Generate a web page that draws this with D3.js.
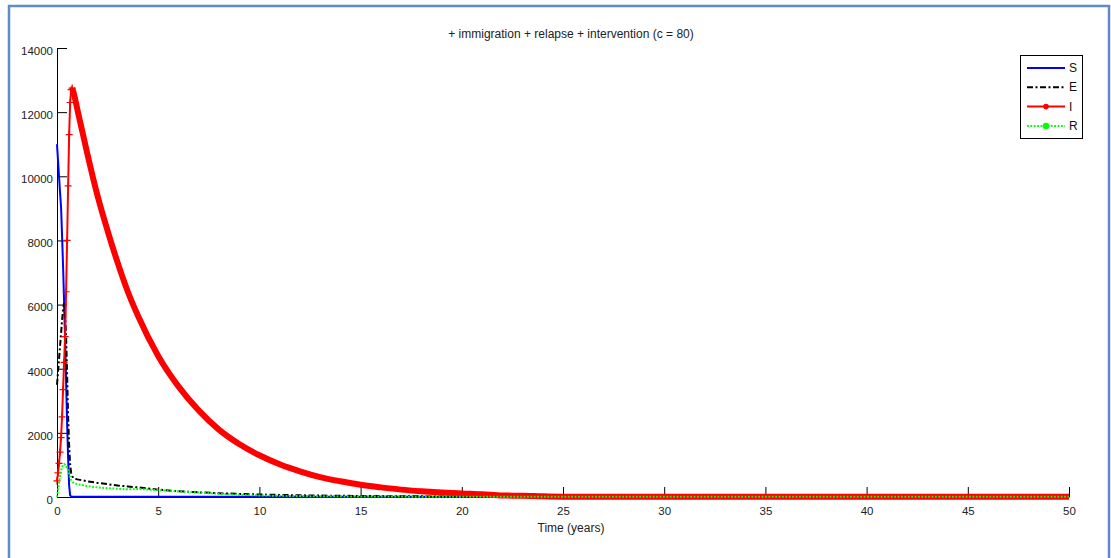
<!DOCTYPE html>
<html>
<head>
<meta charset="utf-8">
<script src="https://cdn.jsdelivr.net/npm/d3@7"></script>
<style>
  body { margin: 0; background: #fff; }
  svg { display: block; font-family: "Liberation Sans", Arial, sans-serif; }
</style>
</head>
<body>
<div id="chart"></div>
<script>
// Time points (years) shared by all series
const time = [0, 0.05, 0.1, 0.15, 0.2, 0.25, 0.3, 0.35, 0.4, 0.45, 0.5, 0.55, 0.6, 0.65, 0.7, 0.75, 0.8, 0.9, 1.0, 1.25, 1.5, 2, 2.5, 3, 3.5, 4, 5, 6, 7, 8, 9, 10, 11, 12, 13, 14, 15, 16, 17, 18, 19, 20, 21, 22, 23, 24, 25, 30, 35, 40, 45, 50];

const seriesS = [11000, 10500, 10000, 9500, 9050, 8150, 7200, 6100, 4900, 3600, 2300, 1200, 350, 50, 20, 10, 10, 10, 10, 10, 10, 10, 10, 10, 10, 10, 10, 10, 10, 10, 10, 10, 10, 10, 10, 10, 10, 10, 10, 10, 10, 10, 10, 10, 10, 10, 10, 10, 10, 10, 10, 10];
const seriesE = [3500, 3900, 4300, 4700, 5100, 5500, 5850, 6050, 5700, 5000, 3800, 2500, 1600, 1000, 750, 650, 600, 570, 550, 520, 490, 440, 400, 360, 330, 300, 230, 180, 145, 118, 96, 78, 65, 53, 45, 38, 32, 27, 23, 20, 17, 14, 12, 10, 9, 8, 7, 5, 4, 4, 4, 4];
const seriesI = [500, 750, 1050, 1400, 1850, 2500, 3350, 4200, 5000, 6400, 8000, 9700, 11300, 12300, 12700, 12750, 12650, 12400, 12100, 11400, 10700, 9400, 8300, 7300, 6400, 5650, 4400, 3450, 2700, 2100, 1650, 1300, 1020, 800, 620, 490, 380, 300, 230, 180, 140, 110, 85, 45, 40, 20, 10, 5, 5, 5, 5, 5];
const seriesR = [0, 200, 450, 650, 820, 940, 1000, 1030, 1010, 960, 900, 830, 720, 600, 520, 480, 450, 420, 400, 370, 340, 300, 275, 255, 240, 250, 215, 175, 140, 100, 70, 50, 38, 30, 24, 20, 16, 14, 12, 10, 9, 8, 7, 6, 6, 5, 5, 5, 5, 5, 5, 5];

const xTicks = [0, 5, 10, 15, 20, 25, 30, 35, 40, 45, 50];
const yTicks = [0, 2000, 4000, 6000, 8000, 10000, 12000, 14000];
const legendLabels = ["S", "E", "I", "R"];

const W = 1111, H = 558;
const svg = d3.select("#chart").append("svg")
    .attr("width", W)
    .attr("height", H);

svg.append("rect").attr("width", W).attr("height", H).attr("fill", "#fff");

// outer frame of the screenshot
svg.append("rect")
    .attr("x", 9).attr("y", 6)
    .attr("width", 1100).attr("height", 600)
    .attr("fill", "none")
    .attr("stroke", "#5f8bc8")
    .attr("stroke-width", 2.5);

const x = d3.scaleLinear().domain([0, 50]).range([57, 1069]);
const y = d3.scaleLinear().domain([0, 14000]).range([497, 48]);

// Axes, ticks pointing inward
const xAxis = svg.append("g")
    .attr("transform", `translate(0,${y(0)})`)
    .call(d3.axisBottom(x).tickValues(xTicks).tickSizeInner(-10).tickSizeOuter(0).tickPadding(10).tickFormat(d3.format("d")));

const yAxis = svg.append("g")
    .attr("transform", `translate(${x(0)},0)`)
    .call(d3.axisLeft(y).tickValues(yTicks).tickSizeInner(-10).tickSizeOuter(0).tickPadding(4).tickFormat(d3.format("d")));

[xAxis, yAxis].forEach(g => {
    g.selectAll("text").style("font-size", "11.5px").attr("fill", "#222").style("font-family", "Liberation Sans, Arial, sans-serif");
    g.selectAll("line").attr("stroke", "#000");
    g.select(".domain").attr("stroke", "#000");
});
yAxis.selectAll("text").attr("dy", "0.55em");

// series lines
const pts = (vals) => time.map((t, i) => [t, vals[i]]);
const line = d3.line().x(d => x(d[0])).y(d => y(d[1]));
const smooth = d3.line().x(d => x(d[0])).y(d => y(d[1])).curve(d3.curveMonotoneX);

svg.append("path")
    .attr("d", line(pts(seriesS)))
    .attr("fill", "none")
    .attr("stroke", "#0000ff")
    .attr("stroke-width", 2);

svg.append("path")
    .attr("d", line(pts(seriesE)))
    .attr("fill", "none")
    .attr("stroke", "#000")
    .attr("stroke-width", 2)
    .attr("stroke-dasharray", "6,2.5,2,2.5");

// I: thin line + markers; past the peak the markers are so dense they form a thick band
const peakIdx = seriesI.indexOf(d3.max(seriesI));
svg.append("path")
    .attr("d", line(pts(seriesI)))
    .attr("fill", "none")
    .attr("stroke", "#ff0000")
    .attr("stroke-width", 2);

svg.append("path")
    .attr("d", smooth(pts(seriesI).slice(peakIdx)))
    .attr("fill", "none")
    .attr("stroke", "#ff0000")
    .attr("stroke-width", 6)
    .attr("stroke-linejoin", "round");

svg.append("g").selectAll("path")
    .data(pts(seriesI).slice(0, peakIdx + 1))
    .join("path")
        .attr("d", d => `M${x(d[0]) - 3.5},${y(d[1])}h7M${x(d[0])},${y(d[1]) - 3.5}v7`)
        .attr("stroke", "#ff0000")
        .attr("stroke-width", 1.2);

svg.append("path")
    .attr("d", line(pts(seriesR)))
    .attr("fill", "none")
    .attr("stroke", "#00ff00")
    .attr("stroke-width", 2)
    .attr("stroke-dasharray", "1.8,1.6");

// title and axis label
svg.append("text")
    .attr("x", 571).attr("y", 38)
    .attr("text-anchor", "middle")
    .style("font-size", "12px")
    .attr("fill", "#222")
    .text("+ immigration + relapse + intervention (c = 80)");

svg.append("text")
    .attr("x", 571).attr("y", 532)
    .attr("text-anchor", "middle")
    .style("font-size", "12px")
    .attr("fill", "#222")
    .text("Time (years)");

// legend
const legend = svg.append("g");
legend.append("rect")
    .attr("x", 1020.5).attr("y", 55.5)
    .attr("width", 62).attr("height", 83)
    .attr("fill", "#fff")
    .attr("stroke", "#000")
    .attr("stroke-width", 1);

const legendStyle = [
    { color: "#0000ff", dash: null, dot: 0 },
    { color: "#000", dash: "6,2.5,2,2.5", dot: 0 },
    { color: "#ff0000", dash: null, dot: 2.8 },
    { color: "#00ff00", dash: "1.8,1.6", dot: 3.2 }
];

legendLabels.forEach((lab, i) => {
    const ly = 68 + i * 19.3;
    const st = legendStyle[i];
    legend.append("line")
        .attr("x1", 1027).attr("x2", 1065)
        .attr("y1", ly).attr("y2", ly)
        .attr("stroke", st.color)
        .attr("stroke-width", 2)
        .attr("stroke-dasharray", st.dash);
    if (st.dot) {
        legend.append("circle")
            .attr("cx", 1046).attr("cy", ly)
            .attr("r", st.dot)
            .attr("fill", st.color);
    }
    legend.append("text")
        .attr("x", 1069).attr("y", ly + 4)
        .style("font-size", "12px")
        .attr("fill", "#111")
        .text(lab);
});
</script>
</body>
</html>
